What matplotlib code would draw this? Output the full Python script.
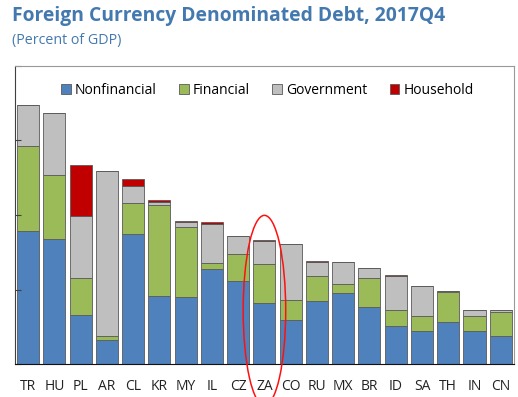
import numpy as np
import matplotlib.pyplot as plt
from matplotlib.patches import Ellipse

plt.rcParams['font.family'] = ['Open Sans', 'DejaVu Sans']

countries = ['TR', 'HU', 'PL', 'AR', 'CL', 'KR', 'MY', 'IL', 'CZ', 'ZA',
             'CO', 'RU', 'MX', 'BR', 'ID', 'SA', 'TH', 'IN', 'CN']
nonfinancial = [17.9, 16.8, 6.6, 3.2, 17.4, 9.1, 9.0, 12.8, 11.2, 8.15,
                5.9, 8.45, 9.5, 7.65, 5.15, 4.5, 5.7, 4.4, 3.8]
financial = [11.3, 8.5, 4.9, 0.6, 4.2, 12.3, 9.4, 0.7, 3.6, 5.25,
             2.7, 3.35, 1.2, 3.85, 2.15, 1.9, 4.0, 2.05, 3.2]
government = [5.6, 8.4, 8.3, 22.1, 2.3, 0.3, 0.6, 5.3, 2.4, 3.15,
              7.5, 1.9, 2.95, 1.35, 4.5, 4.1, 0.15, 0.75, 0.2]
household = [0, 0, 6.9, 0, 0.9, 0.3, 0.2, 0.2, 0, 0.15,
             0, 0.1, 0, 0, 0.1, 0, 0, 0, 0]

series = [('Nonfinancial', nonfinancial, '#4F81BD'),
          ('Financial', financial, '#9BBB59'),
          ('Government', government, '#BFBFBF'),
          ('Household', household, '#C00000')]

fig = plt.figure(figsize=(5.18, 3.97), dpi=100)
ax = fig.add_axes([0.029, 0.083, 0.963, 0.751])

x = np.arange(len(countries))
bottom = np.zeros(len(countries))
for name, vals, color in series:
    vals = np.array(vals)
    ax.bar(x, vals, 0.84, bottom=bottom, color=color, label=name,
           edgecolor='#5a5a5a', linewidth=0.6)
    bottom += vals

ax.set_xlim(-0.5, len(countries) - 0.5)
ax.set_ylim(0, 40)
ax.set_yticks([0, 10, 20, 30, 40])
ax.set_yticklabels([])
ax.tick_params(axis='y', direction='in', length=4, color='#404040')
ax.set_xticks(x)
ax.set_xticklabels(countries, fontsize=10, color='#222222')
ax.tick_params(axis='x', length=0, pad=11)

for s in ['top', 'right']:
    ax.spines[s].set_color('#999999')
    ax.spines[s].set_linewidth(0.8)
ax.spines['left'].set_color('#404040')
ax.spines['bottom'].set_color('#111111')

ax.legend(loc='upper center', ncol=4, frameon=False, fontsize=10,
          handlelength=0.7, handleheight=0.7, handletextpad=0.3,
          columnspacing=1.6, bbox_to_anchor=(0.506, 0.985))

# highlight South Africa
ax.add_patch(Ellipse((9, 7.2), 1.62, 25.5, fill=False, edgecolor='#FF1010',
                     linewidth=1.1, clip_on=False, zorder=5))

fig.text(0.023, 0.96, 'Foreign Currency Denominated Debt, 2017Q4',
         fontsize=13.9, fontweight='bold', color='#4479B0', va='center')
fig.text(0.023, 0.898, '(Percent of GDP)', fontsize=10.3, color='#4479B0',
         va='center')

fig.savefig('out.png', dpi=100)
